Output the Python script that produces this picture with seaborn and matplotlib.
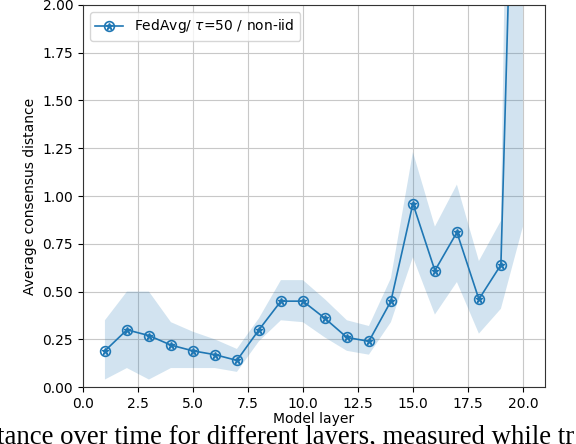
import numpy as np
import matplotlib
matplotlib.use('Agg')
import matplotlib.pyplot as plt
import seaborn as sns

# Data
layers = [1, 2, 3, 4, 5, 6, 7, 8, 9, 10, 11, 12, 13, 14, 15, 16, 17, 18, 19, 20]
mean_dist = [0.19, 0.30, 0.27, 0.22, 0.19, 0.17, 0.14, 0.30, 0.45, 0.45,
             0.36, 0.26, 0.24, 0.45, 0.96, 0.61, 0.81, 0.46, 0.64, 4.8]
lower = [0.04, 0.10, 0.04, 0.10, 0.10, 0.10, 0.08, 0.24, 0.35, 0.34,
         0.26, 0.19, 0.17, 0.34, 0.68, 0.38, 0.55, 0.28, 0.41, 0.84]
upper = [0.35, 0.50, 0.50, 0.34, 0.29, 0.25, 0.20, 0.36, 0.56, 0.56,
         0.46, 0.35, 0.32, 0.57, 1.23, 0.84, 1.06, 0.66, 0.87, 8.4]
label = r'FedAvg/ $\tau$=50 / non-iid'
caption = 'tance over time for different layers, measured while tr'

color = '#1f77b4'

fig = plt.figure(figsize=(5.76, 4.44), dpi=100)
ax = fig.add_axes([0.144, 0.128, 0.802, 0.861])

ax.fill_between(layers, lower, upper, color=color, alpha=0.2, linewidth=0)
sns.lineplot(x=layers, y=mean_dist, ax=ax, color=color, linewidth=1.2,
             marker='o', markersize=7, markerfacecolor='none',
             markeredgecolor=color, markeredgewidth=1.2)
ax.plot(layers, mean_dist, linestyle='none', marker='*', markersize=5,
        color=color)

# legend handle: circle + star
h1 = plt.Line2D([], [], color=color, linewidth=1.2, marker='o', markersize=7,
                markerfacecolor='none', markeredgecolor=color,
                markeredgewidth=1.2)
h2 = plt.Line2D([], [], linestyle='none', marker='*', markersize=5, color=color)
ax.legend([(h1, h2)], [label], loc='upper left', fontsize=10)

ax.set_xlim(0, 21)
ax.set_ylim(0, 2.0)
ax.set_xticks(np.arange(0, 20.1, 2.5))
ax.set_yticks(np.arange(0, 2.01, 0.25))
ax.xaxis.set_major_formatter(matplotlib.ticker.FormatStrFormatter('%.1f'))
ax.yaxis.set_major_formatter(matplotlib.ticker.FormatStrFormatter('%.2f'))
ax.tick_params(labelsize=10)
ax.grid(True, color='#c8c8c8', linewidth=0.8)
ax.set_axisbelow(True)
for s in ax.spines.values():
    s.set_color('#333333')
ax.set_xlabel('Model layer', fontsize=10, labelpad=1)
ax.set_ylabel('Average consensus distance', fontsize=10)

fig.text(-0.006, 0.001, caption, fontsize=19.3, family='Liberation Serif',
         va='baseline', ha='left')

fig.savefig('out.png', dpi=100)
